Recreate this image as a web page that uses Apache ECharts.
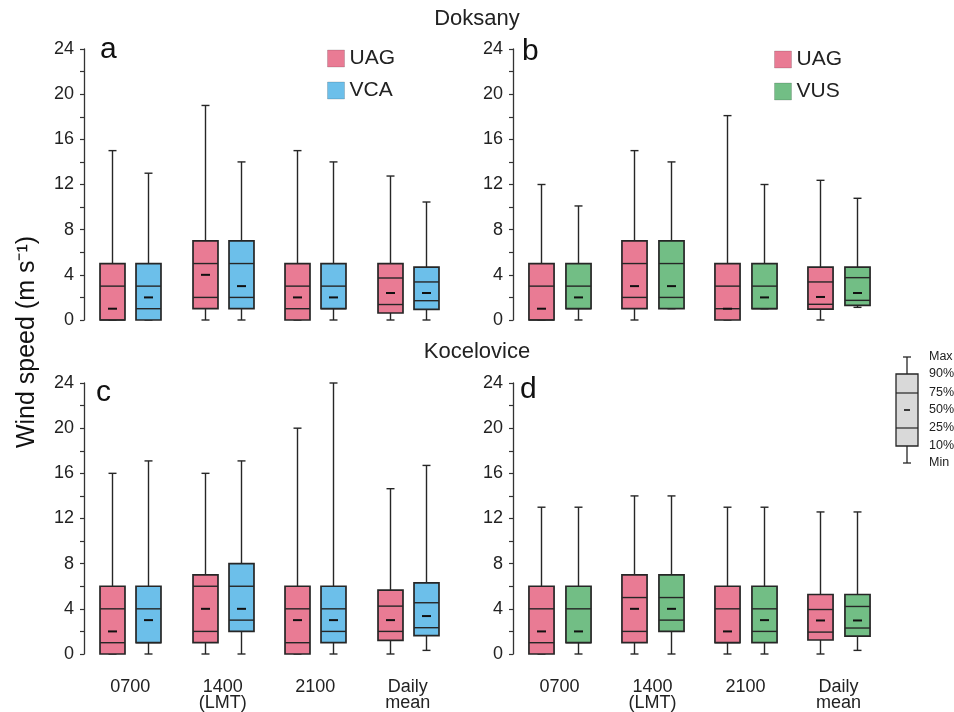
<!DOCTYPE html>
<html>
<head>
<meta charset="utf-8">
<script src="https://cdn.jsdelivr.net/npm/echarts@6/dist/echarts.min.js"></script>
<style>
html,body{margin:0;padding:0;background:#fff;}
#chart{width:954px;height:712px;}
</style>
</head>
<body>
<div id="chart"></div>
<script>
// Categories (x axis)
const categories = ['0700', '1400\n(LMT)', '2100', 'Daily\nmean'];
// Y ticks
const yMin = 0, yMax = 24, yStep = 4;
// Each entry: [min, p10, p25, median, p75, p90, max]
const a_UAG = [[0,0,0,1,3,5,15],[0,1,2,4,5,7,19],[0,0,1,2,3,5,15],[0,0.62,1.37,2.39,3.72,5.0,12.75]];
const a_VCA = [[0,0,1,2,3,5,13],[0,1,2,3,5,7,14],[0,1,1,2,3,5,14],[0,0.94,1.71,2.39,3.37,4.69,10.45]];
const b_UAG = [[0,0,0,1,3,5,12],[0,1,2,3,5,7,15],[0,0,1,1,3,5,18.1],[0,0.97,1.39,2.04,3.37,4.69,12.37]];
const b_VUS = [[0,1,1,2,3,5,10.1],[1,1,2,3,5,7,14],[1,1,1,2,3,5,12],[1.12,1.30,1.74,2.39,3.75,4.69,10.78]];
const c_UAG = [[0,0,1,2,4,6,16],[0,1,2,4,6,7,16],[0,0,1,3,4,6,20],[0,1.2,2.0,3.0,4.24,5.66,14.64]];
const c_VCA = [[0,1,1,3,4,6,17.1],[0,2,3,4,6,8,17.1],[0,1,2,3,4,6,24],[0.32,1.62,2.33,3.36,4.54,6.3,16.7]];
const d_UAG = [[0,0,1,2,4,6,13],[0,1,2,4,5,7,14],[0,1,1,2,4,6,13],[0,1.24,1.94,2.97,3.94,5.27,12.58]];
const d_VUS = [[0,1,1,2,4,6,13],[0,2,3,4,5,7,14],[0,1,2,3,4,6,13],[0.32,1.59,2.3,2.97,4.21,5.27,12.58]];
const panelTitles = ['Doksany', 'Kocelovice'];
const panelLetters = ['a', 'b', 'c', 'd'];
const keyLabels = ['Max', '90%', '75%', '50%', '25%', '10%', 'Min'];
const yTitle = 'Wind speed (m s\u207B\u00B9)';

const FONT = '"Liberation Sans", Arial, Helvetica, sans-serif';
const COL = { UAG: '#E97B94', VCA: '#6CBFEA', VUS: '#72BE85' };
const STROKE = '#262626';

const grids = [
  { left: 84, top: 49, width: 370, height: 271, outerBoundsMode: 'none', containLabel: false },
  { left: 513, top: 49, width: 372, height: 271, outerBoundsMode: 'none', containLabel: false },
  { left: 84, top: 383, width: 370, height: 271, outerBoundsMode: 'none', containLabel: false },
  { left: 513, top: 383, width: 372, height: 271, outerBoundsMode: 'none', containLabel: false }
];

function makeRender(side) {
  return function (params, api) {
    const xi = api.value(0);
    const band = api.size([1, 0])[0];
    const cx = Math.round(api.coord([xi, 0])[0] + side * band * 0.196) + 0.5;
    const w = band * 0.27;
    const y = i => api.coord([xi, api.value(i)])[1];
    const vMin = y(1), v10 = y(2), v25 = y(3), vMed = y(4), v75 = y(5), v90 = y(6), vMax = y(7);
    const color = api.visual('color');
    const cap = 4;
    const ls = { stroke: STROKE, lineWidth: 1.4 };
    return {
      type: 'group',
      children: [
        { type: 'line', shape: { x1: cx, y1: v90, x2: cx, y2: vMax }, style: ls },
        { type: 'line', shape: { x1: cx - cap, y1: vMax, x2: cx + cap, y2: vMax }, style: ls },
        { type: 'line', shape: { x1: cx, y1: v10, x2: cx, y2: vMin }, style: ls },
        { type: 'line', shape: { x1: cx - cap, y1: vMin, x2: cx + cap, y2: vMin }, style: ls },
        { type: 'rect', shape: { x: cx - w / 2, y: v90, width: w, height: v10 - v90 },
          style: { fill: color, stroke: STROKE, lineWidth: 1.7 } },
        { type: 'line', shape: { x1: cx - w / 2, y1: v25, x2: cx + w / 2, y2: v25 }, style: { stroke: STROKE, lineWidth: 1.4 } },
        { type: 'line', shape: { x1: cx - w / 2, y1: v75, x2: cx + w / 2, y2: v75 }, style: { stroke: STROKE, lineWidth: 1.4 } },
        { type: 'line', shape: { x1: cx - 4.5, y1: vMed, x2: cx + 4.5, y2: vMed }, style: { stroke: '#111', lineWidth: 2 } }
      ]
    };
  };
}

function toData(arr) {
  return arr.map((v, i) => [i].concat(v));
}

const xAxes = grids.map((g, i) => ({
  type: 'category', gridIndex: i, data: categories, boundaryGap: true,
  axisLine: { show: false }, axisTick: { show: false },
  axisLabel: { show: i >= 2, fontSize: 18, color: '#222', fontFamily: FONT, margin: 25, lineHeight: 16, interval: 0 }
}));
const yAxes = grids.map((g, i) => ({
  type: 'value', gridIndex: i, min: yMin, max: yMax, interval: yStep,
  splitLine: { show: false },
  axisLine: { show: true, lineStyle: { color: '#333', width: 1.3 } },
  axisTick: { show: true, length: 4, lineStyle: { color: '#333', width: 1.2 } },
  minorTick: { show: true, splitNumber: 2, length: 4, lineStyle: { color: '#333', width: 1.2 } },
  axisLabel: { fontSize: 18, color: '#222', fontFamily: FONT, margin: 10 }
}));

const seriesDefs = [
  ['UAG', a_UAG, 0, -1], ['VCA', a_VCA, 0, 1],
  ['UAG', b_UAG, 1, -1], ['VUS', b_VUS, 1, 1],
  ['UAG', c_UAG, 2, -1], ['VCA', c_VCA, 2, 1],
  ['UAG', d_UAG, 3, -1], ['VUS', d_VUS, 3, 1]
];
const series = seriesDefs.map(([name, arr, gi, side]) => ({
  type: 'custom', name: name, xAxisIndex: gi, yAxisIndex: gi,
  color: COL[name],
  itemStyle: { color: COL[name] },
  renderItem: makeRender(side),
  encode: { x: 0, y: [1, 2, 3, 4, 5, 6, 7] },
  data: toData(arr),
  clip: false, silent: true
}));

const legendCommon = {
  orient: 'vertical', icon: 'rect', itemWidth: 17, itemHeight: 17, itemGap: 11,
  selectedMode: false,
  itemStyle: { borderColor: 'rgba(0,0,0,0.15)', borderWidth: 1 },
  textStyle: { fontSize: 21, color: '#222', fontFamily: FONT, padding: [0, 0, 0, 0] }
};

// key (explanatory symbol) geometry
const kx = 907, kw = 22;
const keyY = [357, 374, 393, 410, 428, 446, 463];

const graphic = [
  { type: 'text', left: 'center', top: 8, style: { text: panelTitles[0], fontSize: 22, fill: '#222', fontFamily: FONT } },
  { type: 'text', left: 'center', top: 341, style: { text: panelTitles[1], fontSize: 22, fill: '#222', fontFamily: FONT } },
  { type: 'text', x: 100, y: 50, style: { text: panelLetters[0], fontSize: 30, fill: '#111', fontFamily: FONT, verticalAlign: 'middle' } },
  { type: 'text', x: 522, y: 52, style: { text: panelLetters[1], fontSize: 30, fill: '#111', fontFamily: FONT, verticalAlign: 'middle' } },
  { type: 'text', x: 96, y: 393, style: { text: panelLetters[2], fontSize: 30, fill: '#111', fontFamily: FONT, verticalAlign: 'middle' } },
  { type: 'text', x: 520, y: 390, style: { text: panelLetters[3], fontSize: 30, fill: '#111', fontFamily: FONT, verticalAlign: 'middle' } },
  { type: 'text', x: 27, y: 342, rotation: Math.PI / 2,
    style: { text: yTitle, fontSize: 25, fill: '#111', fontFamily: FONT, align: 'center', verticalAlign: 'middle' } },
  // key symbol
  { type: 'line', shape: { x1: kx, y1: keyY[0], x2: kx, y2: keyY[6] }, style: { stroke: STROKE, lineWidth: 1.3 } },
  { type: 'line', shape: { x1: kx - 4, y1: keyY[0], x2: kx + 4, y2: keyY[0] }, style: { stroke: STROKE, lineWidth: 1.3 } },
  { type: 'line', shape: { x1: kx - 4, y1: keyY[6], x2: kx + 4, y2: keyY[6] }, style: { stroke: STROKE, lineWidth: 1.3 } },
  { type: 'rect', shape: { x: kx - kw / 2, y: keyY[1], width: kw, height: keyY[5] - keyY[1] }, style: { fill: '#D9D9D9', stroke: STROKE, lineWidth: 1.3 } },
  { type: 'line', shape: { x1: kx - kw / 2, y1: keyY[2], x2: kx + kw / 2, y2: keyY[2] }, style: { stroke: STROKE, lineWidth: 1.2 } },
  { type: 'line', shape: { x1: kx - kw / 2, y1: keyY[4], x2: kx + kw / 2, y2: keyY[4] }, style: { stroke: STROKE, lineWidth: 1.2 } },
  { type: 'line', shape: { x1: kx - 3, y1: keyY[3], x2: kx + 3, y2: keyY[3] }, style: { stroke: '#111', lineWidth: 1.6 } }
].concat(keyLabels.map((t, i) => ({
  type: 'text', x: 929, y: keyY[i], style: { text: t, fontSize: 12.5, fill: '#222', fontFamily: FONT, verticalAlign: 'middle' }
})));

const option = {
  backgroundColor: '#fff',
  animation: false,
  textStyle: { fontFamily: FONT },
  grid: grids,
  xAxis: xAxes,
  yAxis: yAxes,
  legend: [
    Object.assign({}, legendCommon, { left: 322, top: 43, data: ['UAG', 'VCA'] }),
    Object.assign({}, legendCommon, { left: 769, top: 44, data: ['UAG', 'VUS'] })
  ],
  series: series,
  graphic: graphic
};

const chart = echarts.init(document.getElementById('chart'), null, { renderer: 'canvas' });
chart.setOption(option);
</script>
</body>
</html>
